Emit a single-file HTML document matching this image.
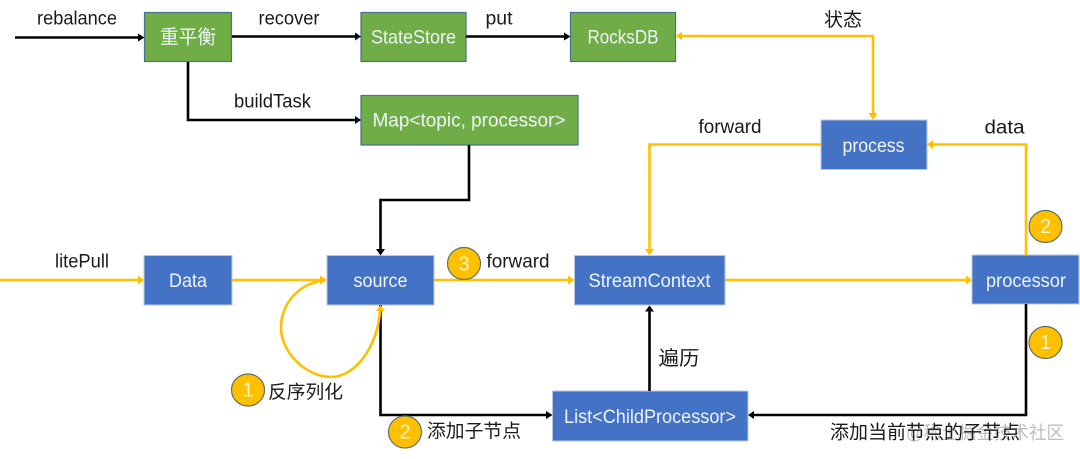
<!DOCTYPE html>
<html>
<head>
<meta charset="utf-8">
<style>
html,body{margin:0;padding:0;background:#fff;width:1080px;height:459px;overflow:hidden}
svg{display:block;filter:blur(.35px)}
text{font-family:"Liberation Sans","Noto Sans CJK SC",sans-serif;font-size:19px;fill:#1a1a1a;text-anchor:middle;dominant-baseline:central}
.w{fill:#eef4fa;font-size:19.5px}
.n{fill:#fff3cf;font-size:20px}
.k{fill:none;stroke:#000;stroke-width:2.6}
.y{fill:none;stroke:#ffc000;stroke-width:2.6}
.b{fill:#4472c4;stroke:#b8c8e4;stroke-width:1}
.g{fill:#70ad47;stroke:#47708a;stroke-width:1.2}
.c{fill:#ffc000;stroke:#5f6f70;stroke-width:1.2}
</style>
</head>
<body>
<svg width="1080" height="459" viewBox="0 0 1080 459" xmlns="http://www.w3.org/2000/svg">
<!-- boxes -->
<rect class="g" x="144.5" y="12.5" width="87" height="49"/>
<rect class="g" x="361" y="12.5" width="105" height="49"/>
<rect class="g" x="570.5" y="12.5" width="105" height="49"/>
<rect class="g" x="361" y="95.5" width="217" height="49.5"/>
<rect class="b" x="821" y="120" width="106" height="49.5"/>
<rect class="b" x="144" y="255.5" width="88" height="49.5"/>
<rect class="b" x="327" y="255.5" width="107" height="49.5"/>
<rect class="b" x="574.5" y="255.5" width="150.5" height="49.5"/>
<rect class="b" x="972" y="255" width="107" height="49"/>
<rect class="b" x="552.5" y="391" width="195.5" height="50"/>

<!-- black connectors -->
<path class="k" d="M15 37.5H139"/><path d="M138 33.5L144.5 37.5L138 41.5Z"/>
<path class="k" d="M232 36.5H355"/><path d="M355 32.5L361 36.5L355 40.5Z"/>
<path class="k" d="M466 36.5H564"/><path d="M564 32.5L570.500 36.5L564 40.5Z"/>
<path class="k" d="M188 62V120H355"/><path d="M355 116L361 120L355 124Z"/>
<path class="k" d="M469 145V200H380.500V249"/><path d="M376 249H385L380.500 255.500Z"/>
<path class="k" d="M1026 304V415H754"/><path d="M754 411L748 415L754 419Z"/>
<path class="k" d="M380.500 305V415H546"/><path d="M546 411L552.500 415L546 419Z"/>
<path class="k" d="M649.500 391V311"/><path d="M645 311.500H654L649.500 305.500Z"/>

<!-- yellow connectors -->
<path class="y" d="M682 36H873V114"/>
<path d="M682 31.500L676 36L682 40.500Z" fill="#ffc000"/>
<path d="M868.500 113H877.500L873 120Z" fill="#ffc000"/>
<path class="y" d="M821 144.500H649.500V249"/>
<path d="M645 249H654L649.500 255.500Z" fill="#ffc000"/>
<path class="y" d="M1026 255V144.500H933"/>
<path d="M933 140L927 144.500L933 149Z" fill="#ffc000"/>
<path class="y" d="M0 280H138"/>
<path d="M138 275.500L144 280L138 284.500Z" fill="#ffc000"/>
<path class="y" d="M232 280H321"/>
<path d="M320 275.500L327 280L320 284.500Z" fill="#ffc000"/>
<path class="y" d="M434 280H568"/>
<path d="M568 275.500L574.500 280L568 284.500Z" fill="#ffc000"/>
<path class="y" d="M725 280H966"/>
<path d="M966 275.500L972 280L966 284.500Z" fill="#ffc000"/>
<path class="y" d="M323 280.500C298 284 281 304 281 328C281 352 306 377 331 377C356 377 378 345 380 311"/>
<path d="M376 311H385L380.500 305Z" fill="#ffc000"/>

<!-- badges -->
<ellipse class="c" cx="248" cy="390" rx="16.500" ry="16"/>
<text class="n" x="248" y="390.500">1</text>
<ellipse class="c" cx="464" cy="263.500" rx="16.500" ry="16"/>
<text class="n" x="464" y="264.500">3</text>
<ellipse class="c" cx="405" cy="432" rx="16.500" ry="16"/>
<text class="n" x="405" y="432.500">2</text>
<ellipse class="c" cx="1045.500" cy="226.500" rx="16.500" ry="16"/>
<text class="n" x="1045.500" y="227">2</text>
<ellipse class="c" cx="1045.500" cy="342.500" rx="16.500" ry="16"/>
<text class="n" x="1045.500" y="343">1</text>

<!-- box labels -->
<text class="w" x="188" y="37.500" textLength="56" lengthAdjust="spacingAndGlyphs">重平衡</text>
<text class="w" x="413.500" y="37.500" textLength="85" lengthAdjust="spacingAndGlyphs">StateStore</text>
<text class="w" x="623" y="37.500" textLength="71" lengthAdjust="spacingAndGlyphs">RocksDB</text>
<text class="w" x="469" y="120.500" textLength="193" lengthAdjust="spacingAndGlyphs">Map&lt;topic, processor&gt;</text>
<text class="w" x="873.500" y="146" textLength="62" lengthAdjust="spacingAndGlyphs">process</text>
<text class="w" x="188" y="281" textLength="38" lengthAdjust="spacingAndGlyphs">Data</text>
<text class="w" x="380.500" y="281" textLength="54" lengthAdjust="spacingAndGlyphs">source</text>
<text class="w" x="649.500" y="281" textLength="122" lengthAdjust="spacingAndGlyphs">StreamContext</text>
<text class="w" x="1026" y="281" textLength="80" lengthAdjust="spacingAndGlyphs">processor</text>
<text class="w" x="650" y="417" textLength="172" lengthAdjust="spacingAndGlyphs">List&lt;ChildProcessor&gt;</text>

<!-- connector labels -->
<text x="77" y="19" textLength="80" lengthAdjust="spacingAndGlyphs">rebalance</text>
<text x="289" y="19" textLength="61" lengthAdjust="spacingAndGlyphs">recover</text>
<text x="499" y="19" textLength="27" lengthAdjust="spacingAndGlyphs">put</text>
<text x="272.500" y="102" textLength="77" lengthAdjust="spacingAndGlyphs">buildTask</text>
<text x="843" y="20.500" textLength="38" lengthAdjust="spacingAndGlyphs">状态</text>
<text x="730" y="127.500" textLength="63" lengthAdjust="spacingAndGlyphs">forward</text>
<text x="1004.500" y="128" textLength="40" lengthAdjust="spacingAndGlyphs">data</text>
<text x="82" y="262" textLength="54" lengthAdjust="spacingAndGlyphs">litePull</text>
<text x="518" y="262" textLength="63" lengthAdjust="spacingAndGlyphs">forward</text>
<text x="679" y="359" style="font-size:20px" textLength="41" lengthAdjust="spacingAndGlyphs">遍历</text>
<text x="305.500" y="392" style="font-size:18.500px" textLength="75" lengthAdjust="spacingAndGlyphs">反序列化</text>
<text x="474" y="431" style="font-size:18.500px" textLength="94" lengthAdjust="spacingAndGlyphs">添加子节点</text>
<text x="985" y="433" style="font-size:18px;fill:#bdbdbd" textLength="158" lengthAdjust="spacingAndGlyphs">@稀土掘金技术社区</text>
<text x="925" y="433" style="font-size:19px" textLength="190" lengthAdjust="spacingAndGlyphs">添加当前节点的子节点</text>
</svg>
</body>
</html>
